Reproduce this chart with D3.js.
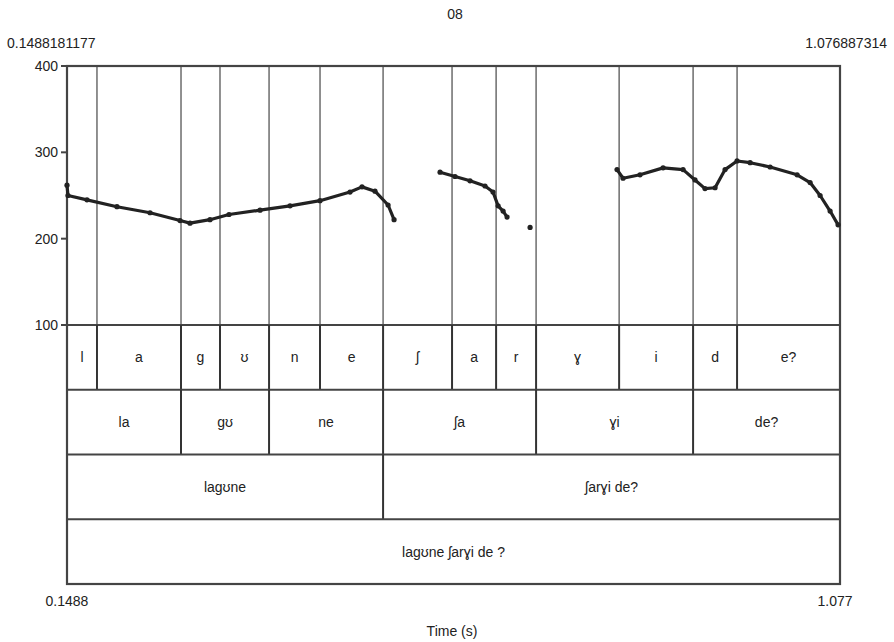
<!DOCTYPE html>
<html>
<head>
<meta charset="utf-8">
<script src="https://cdn.jsdelivr.net/npm/d3@7"></script>
<style>
  html, body { margin: 0; padding: 0; background: #fff; }
  svg { display: block; }
  text { font-family: "Liberation Sans", Arial, sans-serif; fill: #222; }
</style>
</head>
<body>
<div id="chart"></div>
<script>
// Time range of the window (s)
const timeStart = 0.1488181177;
const timeEnd = 1.076887314;
const title = "08";

// Pitch axis (Hz)
const pitchMin = 100;
const pitchMax = 400;
const pitchTicks = [100, 200, 300, 400];

// Pitch contour: voiced stretches, each a list of [time (s), F0 (Hz)]
const pitchRun1 = [
  [0.1488, 262], [0.1500, 250], [0.1728, 245], [0.2088, 237], [0.2485, 230],
  [0.2845, 221], [0.2965, 218], [0.3205, 222], [0.3433, 228], [0.3806, 233],
  [0.4166, 238], [0.4526, 244], [0.4886, 254], [0.5030, 260], [0.5186, 255],
  [0.5343, 239], [0.5415, 222]
];
const pitchRun2 = [
  [0.5967, 277], [0.6147, 272], [0.6327, 267], [0.6507, 261], [0.6603, 254],
  [0.6664, 238], [0.6724, 232], [0.6772, 225]
];
const pitchRun3 = [[0.7048, 213]];
const pitchRun4 = [
  [0.8092, 280], [0.8164, 270], [0.8368, 274], [0.8645, 282], [0.8885, 280],
  [0.9028, 268], [0.9148, 258], [0.9269, 259], [0.9389, 280], [0.9533, 290],
  [0.9690, 288], [0.9930, 283], [1.0254, 274], [1.0410, 265], [1.0530, 250],
  [1.0650, 232], [1.0746, 216]
];
const pitchRuns = [pitchRun1, pitchRun2, pitchRun3, pitchRun4];

// TextGrid tiers: interval boundaries (s) and labels
const tier1Bounds = [0.1848, 0.2857, 0.3325, 0.3914, 0.4526, 0.5283, 0.6111, 0.6640, 0.7120, 0.8117, 0.9005, 0.9533];
const tier1Labels = ["l", "a", "g", "ʊ", "n", "e", "ʃ", "a", "r", "ɣ", "i", "d", "e?"];
const tier2Bounds = [0.2857, 0.3914, 0.5283, 0.7120, 0.9005];
const tier2Labels = ["la", "gʊ", "ne", "ʃa", "ɣi", "de?"];
const tier3Bounds = [0.5283];
const tier3Labels = ["lagʊne", "ʃarɣi de?"];
const tier4Bounds = [];
const tier4Labels = ["lagʊne ʃarɣi de ?"];
const tiers = [
  { bounds: tier1Bounds, labels: tier1Labels },
  { bounds: tier2Bounds, labels: tier2Labels },
  { bounds: tier3Bounds, labels: tier3Labels },
  { bounds: tier4Bounds, labels: tier4Labels }
];

const W = 894, H = 642;
const frameLeft = 67, frameRight = 840, frameTop = 66, pitchBottom = 325, frameBottom = 584;
const tierH = (frameBottom - pitchBottom) / tiers.length;

const svg = d3.select("#chart").append("svg").attr("width", W).attr("height", H);

const x = d3.scaleLinear().domain([timeStart, timeEnd]).range([frameLeft, frameRight]);
const y = d3.scaleLinear().domain([pitchMin, pitchMax]).range([pitchBottom, frameTop]);

// Tier-1 boundaries run up through the pitch area
svg.append("g").selectAll("line").data(tier1Bounds).join("line")
  .attr("x1", d => x(d)).attr("x2", d => x(d))
  .attr("y1", frameTop).attr("y2", pitchBottom)
  .attr("stroke", "#555").attr("stroke-width", 1.3);

// Tiers
tiers.forEach((tier, i) => {
  const y0 = pitchBottom + i * tierH, y1 = y0 + tierH;
  const g = svg.append("g");
  g.append("line").attr("x1", frameLeft).attr("x2", frameRight).attr("y1", y0).attr("y2", y0)
    .attr("stroke", "#444").attr("stroke-width", 2.2);
  g.selectAll("line.b").data(tier.bounds).join("line").attr("class", "b")
    .attr("x1", d => x(d)).attr("x2", d => x(d)).attr("y1", y0).attr("y2", y1)
    .attr("stroke", "#333").attr("stroke-width", 2);
  const edges = [timeStart, ...tier.bounds, timeEnd];
  g.selectAll("text").data(tier.labels).join("text")
    .attr("x", (d, k) => (x(edges[k]) + x(edges[k + 1])) / 2)
    .attr("y", (y0 + y1) / 2 + 5)
    .attr("text-anchor", "middle").attr("font-size", 14)
    .text(d => d);
});

// Frame
svg.append("rect").attr("x", frameLeft).attr("y", frameTop)
  .attr("width", frameRight - frameLeft).attr("height", frameBottom - frameTop)
  .attr("fill", "none").attr("stroke", "#444").attr("stroke-width", 2.2);

// Pitch axis ticks and labels
const yAxis = svg.append("g");
yAxis.selectAll("line").data(pitchTicks).join("line")
  .attr("x1", frameLeft - 6).attr("x2", frameLeft).attr("y1", d => y(d)).attr("y2", d => y(d))
  .attr("stroke", "#444").attr("stroke-width", 2);
yAxis.selectAll("text").data(pitchTicks).join("text")
  .attr("x", frameLeft - 9).attr("y", d => y(d) + 5)
  .attr("text-anchor", "end").attr("font-size", 14)
  .text(d => d);

// Pitch contour
const line = d3.line().x(d => x(d[0])).y(d => y(d[1])).curve(d3.curveLinear);
svg.append("g").selectAll("path").data(pitchRuns.filter(r => r.length > 1)).join("path")
  .attr("d", line).attr("fill", "none")
  .attr("stroke", "#222").attr("stroke-width", 3.2)
  .attr("stroke-linejoin", "round").attr("stroke-linecap", "round");
svg.append("g").selectAll("circle").data(pitchRuns.flat()).join("circle")
  .attr("cx", d => x(d[0])).attr("cy", d => y(d[1])).attr("r", 2.6)
  .attr("fill", "#222");

// Window times and title
svg.append("text").attr("x", 7).attr("y", 48).attr("font-size", 14).text(timeStart.toString());
svg.append("text").attr("x", 887).attr("y", 48).attr("text-anchor", "end").attr("font-size", 14).text(timeEnd.toString());
svg.append("text").attr("x", 455).attr("y", 19).attr("text-anchor", "middle").attr("font-size", 14).text(title);

// Time axis end labels and title
svg.append("text").attr("x", frameLeft).attr("y", 606).attr("text-anchor", "middle").attr("font-size", 14)
  .text(d3.format(".4f")(timeStart));
svg.append("text").attr("x", frameRight - 5).attr("y", 606).attr("text-anchor", "middle").attr("font-size", 14)
  .text(d3.format(".3f")(timeEnd));
svg.append("text").attr("x", 452).attr("y", 636).attr("text-anchor", "middle").attr("font-size", 14)
  .text("Time (s)");
</script>
</body>
</html>
